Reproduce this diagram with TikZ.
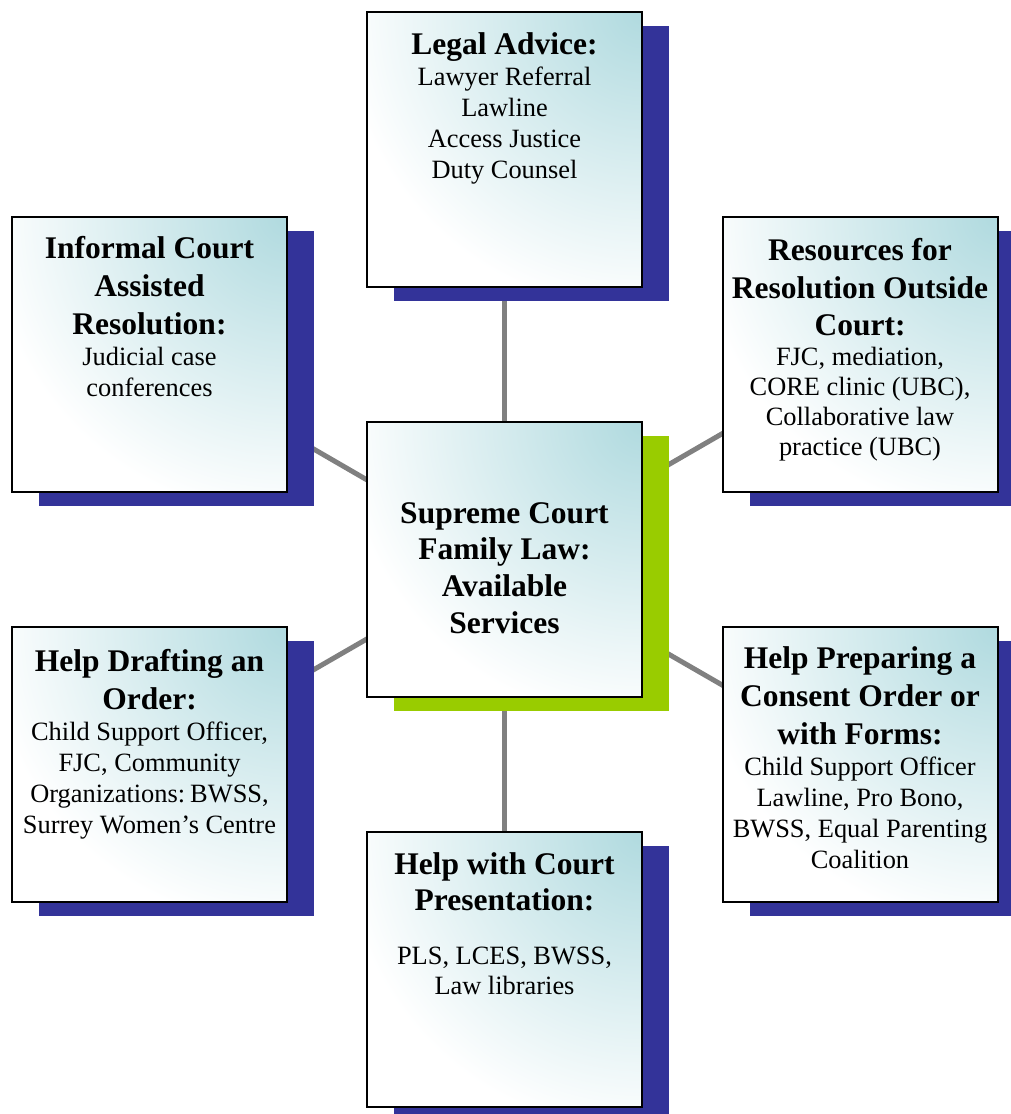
\documentclass[tikz,border=0pt]{standalone}
\usepackage{fontspec}
\setmainfont{Liberation Serif}
\usetikzlibrary{shadows}
\definecolor{tealshade}{RGB}{176,218,223}
\definecolor{navyshadow}{RGB}{51,51,153}
\definecolor{limeshadow}{RGB}{153,204,0}
\definecolor{conngray}{RGB}{128,128,128}
\pgfdeclarelayer{bg}
\pgfsetlayers{bg,main}
\newcommand\hdtext[2][38]{{\fontsize{31.5}{#1}\selectfont\bfseries\spaceskip=.25em\relax #2\par}}
\newcommand\bdtext[2][31]{{\fontsize{26.4}{#1}\selectfont\spaceskip=.25em\relax #2\par}}
\tikzset{
  box/.style={draw=black, line width=2pt, minimum width=275pt, minimum height=275pt,
    inner sep=0pt, outer sep=0pt, fill=white,
    general shadow={fill=#1, draw=none, shadow xshift=27pt, shadow yshift=-14pt},
    path picture={\shade[inner color=tealshade, outer color=white]
      (path picture bounding box.north east) circle (300pt);}},
  box/.default=navyshadow,
  txt/.style={text width=272pt, align=center, inner sep=0pt, outer sep=0pt, anchor=north},
  conn/.style={draw=conngray, line width=5pt}
}
\begin{document}
\begin{tikzpicture}[x=1pt, y=-1pt]
\useasboundingbox (0,0) rectangle (1011,1114);
% boxes
\node[box] (legal) at (504.5,149) {};
\node[box] (informal) at (149.5,354) {};
\node[box] (resources) at (860,354) {};
\node[box=limeshadow] (center) at (504.5,559.5) {};
\node[box] (drafting) at (149.5,764.5) {};
\node[box] (preparing) at (860,764.5) {};
\node[box] (court) at (504.5,969.5) {};
% connectors
\begin{pgfonlayer}{bg}
\draw[conn] (center.center) -- (legal.center);
\draw[conn] (center.center) -- (informal.center);
\draw[conn] (center.center) -- (resources.center);
\draw[conn] (center.center) -- (drafting.center);
\draw[conn] (center.center) -- (preparing.center);
\draw[conn] (center.center) -- (court.center);
\end{pgfonlayer}
% texts
\node[txt] (legalT) at ([yshift=-21pt]legal.north)
  {\hdtext{Legal Advice:}\bdtext{Lawyer Referral\\Lawline\\Access Justice\\Duty Counsel}};
\node[txt] (informalT) at ([yshift=-20pt]informal.north)
  {\hdtext{Informal Court\\Assisted\\Resolution:}\bdtext{Judicial case\\conferences}};
\node[txt] (resourcesT) at ([yshift=-22pt]resources.north)
  {\hdtext[37.5]{Resources for\\Resolution Outside\\Court:}\bdtext[30]{FJC, mediation,\\CORE clinic (UBC),\\Collaborative law\\practice (UBC)}};
\node[txt, anchor=center] (centerT) at (504.5,568)
  {\hdtext[36.7]{Supreme Court\\Family Law:\\Available\\Services}};
\node[txt] (draftingT) at ([yshift=-22pt]drafting.north)
  {\hdtext{Help Drafting an\\Order:}\bdtext{Child Support Officer,\\FJC, Community\\Organizations: BWSS,\\Surrey Women’s Centre}};
\node[txt] (preparingT) at ([yshift=-20pt]preparing.north)
  {\hdtext{Help Preparing a\\Consent Order or\\with Forms:}\bdtext{Child Support Officer\\Lawline, Pro Bono,\\BWSS, Equal Parenting\\Coalition}};
\node[txt] (courtT) at ([yshift=-21pt]court.north)
  {\hdtext[36]{Help with Court\\Presentation:}\vskip 24pt\bdtext[30]{PLS, LCES, BWSS,\\Law libraries}};
\end{tikzpicture}
\end{document}
